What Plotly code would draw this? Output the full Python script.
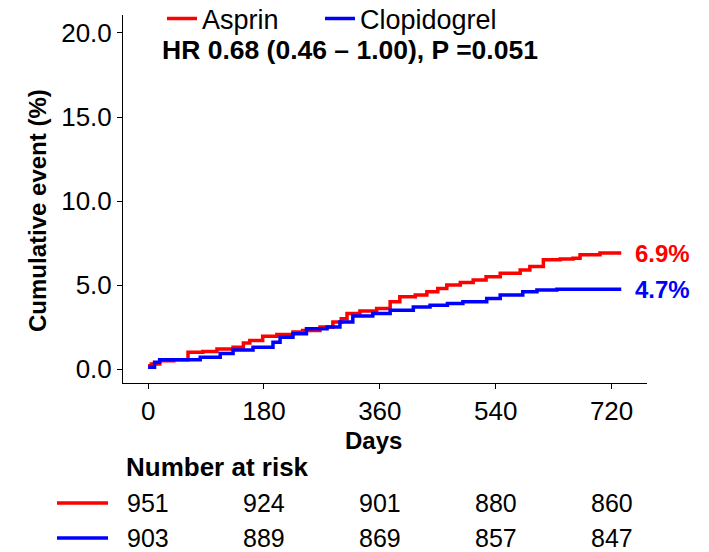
import plotly.graph_objects as go

# ---- data ----
asp_days = [0, 5, 18, 40, 62, 85, 107, 132, 148, 158, 178, 200, 225, 240, 267, 287, 300, 309, 329, 355, 376, 391, 415, 433, 450, 464, 485, 505, 525, 547, 578, 593, 614, 640, 660, 671, 702, 735]
asp_cum = [0.2, 0.3, 0.5, 0.55, 1.0, 1.05, 1.2, 1.3, 1.55, 1.7, 1.95, 2.05, 2.2, 2.3, 2.5, 2.8, 3.0, 3.3, 3.45, 3.6, 4.0, 4.3, 4.4, 4.6, 4.8, 5.0, 5.15, 5.3, 5.5, 5.7, 5.9, 6.1, 6.5, 6.55, 6.6, 6.8, 6.9, 6.9]
clo_days = [0, 10, 18, 81, 112, 132, 163, 194, 205, 225, 246, 278, 298, 318, 349, 376, 412, 438, 465, 489, 526, 547, 582, 604, 635, 735]
clo_cum = [0.1, 0.4, 0.55, 0.7, 0.93, 1.13, 1.3, 1.6, 1.9, 2.1, 2.4, 2.5, 2.8, 3.15, 3.3, 3.5, 3.7, 3.8, 3.9, 4.0, 4.2, 4.4, 4.6, 4.7, 4.75, 4.75]
groups = ["Asprin", "Clopidogrel"]
colors = ["#FF0000", "#0000FF"]
end_labels = ["6.9%", "4.7%"]
risk_times = [0, 180, 360, 540, 720]
risk_asp = [951, 924, 901, 880, 860]
risk_clo = [903, 889, 869, 857, 847]
y_ticks = [0, 5, 10, 15, 20]
hr_text = "HR 0.68 (0.46 \u2013 1.00), P =0.051"

FONT = "Liberation Sans, Arial, sans-serif"

fig = go.Figure()
for name, xs, ys, col, lg in [(groups[0], asp_days, asp_cum, colors[0], "legend"),
                              (groups[1], clo_days, clo_cum, colors[1], "legend2")]:
    fig.add_trace(go.Scatter(x=xs, y=ys, mode="lines", name=name, legend=lg,
                             line=dict(color=col, width=3.5, shape="hv")))

ann = []
# end labels
for lbl, ys, col in [(end_labels[0], asp_cum, colors[0]), (end_labels[1], clo_cum, colors[1])]:
    ann.append(dict(x=753, y=ys[-1], xref="x", yref="y", text="<b>%s</b>" % lbl,
                    showarrow=False, xanchor="left", yanchor="middle",
                    font=dict(family=FONT, size=24, color=col)))
# HR text
ann.append(dict(x=(160 - 123) / 524, y=(383 - 50) / 368, xref="paper", yref="paper",
                text="<b>%s</b>" % hr_text,
                showarrow=False, xanchor="left", yanchor="middle",
                font=dict(family=FONT, size=26.5, color="black")))
# axis titles
ann.append(dict(x=350, y=(383 - 440) / 368, xref="x", yref="paper", text="<b>Days</b>",
                showarrow=False, xanchor="center", yanchor="middle",
                font=dict(family=FONT, size=24, color="black")))
ann.append(dict(x=(38 - 123) / 524, y=(383 - 211) / 368, xref="paper", yref="paper",
                text="<b>Cumulative event (%)</b>", textangle=-90,
                showarrow=False, xanchor="center", yanchor="middle",
                font=dict(family=FONT, size=24, color="black")))
# Number at risk
ann.append(dict(x=(124 - 123) / 524, y=(383 - 467) / 368, xref="paper", yref="paper",
                text="<b>Number at risk</b>",
                showarrow=False, xanchor="left", yanchor="middle",
                font=dict(family=FONT, size=26, color="black")))
row_y = [(383 - 503) / 368, (383 - 538) / 368]
for vals, yy in [(risk_asp, row_y[0]), (risk_clo, row_y[1])]:
    for t, v in zip(risk_times, vals):
        ann.append(dict(x=t, y=yy, xref="x", yref="paper", text=str(v), showarrow=False,
                        xanchor="center", yanchor="middle",
                        font=dict(family=FONT, size=25, color="black")))

shapes = []
for col, yy in zip(colors, row_y):
    shapes.append(dict(type="line", xref="paper", yref="paper",
                       x0=(57 - 123) / 524, x1=(108 - 123) / 524, y0=yy, y1=yy,
                       line=dict(color=col, width=3.5)))

legend_common = dict(orientation="h", xanchor="left", yanchor="middle",
                     font=dict(family=FONT, size=27, color="black"),
                     bgcolor="rgba(0,0,0,0)", itemwidth=30)

fig.update_layout(
    width=709, height=552,
    margin=dict(l=123, r=62, t=15, b=169, autoexpand=False),
    paper_bgcolor="white", plot_bgcolor="white",
    font=dict(family=FONT, size=26, color="black"),
    showlegend=True,
    legend=dict(x=(162 - 123) / 524, y=(383 - 19) / 368, **legend_common),
    legend2=dict(x=(320 - 123) / 524, y=(383 - 19) / 368, **legend_common),
    annotations=ann, shapes=shapes,
    xaxis=dict(range=[-39, 775], tickvals=risk_times, ticks="outside", ticklen=5,
               tickcolor="black", showline=True, linecolor="black", linewidth=1,
               showgrid=False, zeroline=False, mirror=False,
               tickfont=dict(family=FONT, size=26, color="black")),
    yaxis=dict(range=[-0.83, 21.07], tickvals=y_ticks, tickformat=".1f", ticks="outside",
               ticklen=5, tickcolor="black", showline=True, linecolor="black", linewidth=1,
               showgrid=False, zeroline=False,
               tickfont=dict(family=FONT, size=26, color="black")),
)

fig.write_html("out.html", config={"displayModeBar": False},
               post_script="document.body.style.margin='0';document.body.style.overflow='hidden';")
